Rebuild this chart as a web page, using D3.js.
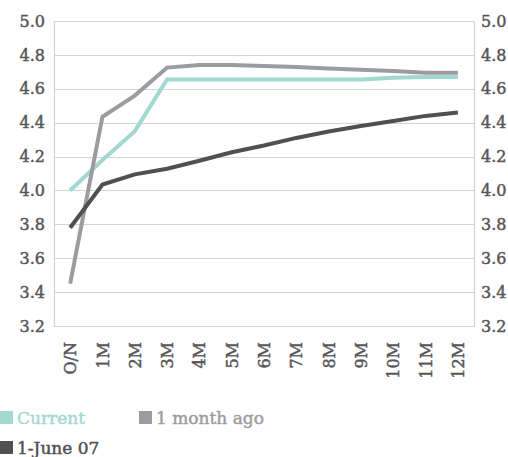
<!DOCTYPE html>
<html>
<head>
<meta charset="utf-8">
<script src="https://cdn.jsdelivr.net/npm/d3@7"></script>
<style>
  html, body { margin: 0; padding: 0; background: #fff; }
  svg { display: block; }
  text { font-family: "DejaVu Serif", "Liberation Serif", serif; }
</style>
</head>
<body>
<svg id="chart" width="508" height="457"></svg>
<script>
// Money-market yield curve: tenors from overnight to 12 months
const tenors = ["O/N", "1M", "2M", "3M", "4M", "5M", "6M", "7M", "8M", "9M", "10M", "11M", "12M"];

const currentRates = [4.00, 4.18, 4.35, 4.655, 4.655, 4.655, 4.655, 4.655, 4.655, 4.655, 4.665, 4.67, 4.67];
const monthAgoRates = [3.45, 4.435, 4.56, 4.725, 4.74, 4.74, 4.735, 4.728, 4.72, 4.712, 4.705, 4.695, 4.695];
const june07Rates = [3.78, 4.035, 4.095, 4.128, 4.175, 4.225, 4.265, 4.31, 4.348, 4.38, 4.41, 4.44, 4.46];

const yTicks = [3.2, 3.4, 3.6, 3.8, 4.0, 4.2, 4.4, 4.6, 4.8, 5.0];

const seriesNames = ["Current", "1 month ago", "1-June 07"];
const seriesColors = ["#a1d9d1", "#9c9ca0", "#505052"];

const series = [
  { name: seriesNames[0], color: seriesColors[0], values: currentRates },
  { name: seriesNames[1], color: seriesColors[1], values: monthAgoRates },
  { name: seriesNames[2], color: seriesColors[2], values: june07Rates }
];

const svg = d3.select("#chart");
const plot = { left: 54, right: 474, top: 21, bottom: 326 };

const x = d3.scalePoint().domain(tenors).range([plot.left, plot.right]).padding(0.5);
const y = d3.scaleLinear().domain([3.2, 5.0]).range([plot.bottom, plot.top]);

// horizontal gridlines
svg.append("g")
  .selectAll("line")
  .data(yTicks)
  .join("line")
  .attr("x1", plot.left).attr("x2", plot.right)
  .attr("y1", d => Math.round(y(d)) + 0.5).attr("y2", d => Math.round(y(d)) + 0.5)
  .attr("stroke", "#d4d4d4").attr("stroke-width", 1.2);

// left and right frame lines
[plot.left, plot.right].forEach(px => {
  svg.append("line")
    .attr("x1", px + 0.5).attr("x2", px + 0.5)
    .attr("y1", plot.top).attr("y2", Math.round(plot.bottom) + 1)
    .attr("stroke", "#d4d4d4").attr("stroke-width", 1.2);
});

const fmt = d3.format(".1f");
const labelColor = "#555557";

// slightly heavier text weight
function styleLabels(sel, color) {
  sel.attr("fill", color)
    .attr("stroke", color)
    .attr("stroke-width", 0.45)
    .attr("font-size", 16)
    .attr("font-family", "DejaVu Serif");
}

// left value axis
const leftAxis = svg.append("g")
  .attr("transform", `translate(${plot.left},0)`)
  .call(d3.axisLeft(y).tickValues(yTicks).tickFormat(fmt).tickSize(0).tickPadding(9));
leftAxis.select(".domain").remove();
styleLabels(leftAxis.selectAll("text"), labelColor);

// right value axis
const rightAxis = svg.append("g")
  .attr("transform", `translate(${plot.right},0)`)
  .call(d3.axisRight(y).tickValues(yTicks).tickFormat(fmt).tickSize(0).tickPadding(7));
rightAxis.select(".domain").remove();
styleLabels(rightAxis.selectAll("text"), labelColor);

// tenor labels, rotated
const bottomAxis = svg.append("g")
  .attr("transform", `translate(0,${plot.bottom})`)
  .call(d3.axisBottom(x).tickSize(0).tickPadding(0));
bottomAxis.select(".domain").remove();
styleLabels(bottomAxis.selectAll("text"), labelColor);
bottomAxis.selectAll("text")
  .attr("text-anchor", "end")
  .attr("transform", "translate(0,16) rotate(-90)")
  .attr("x", 0).attr("y", 0).attr("dy", "0.35em");

// rate curves
const line = d3.line()
  .x((d, i) => x(tenors[i]))
  .y(d => y(d));

svg.append("g")
  .selectAll("path")
  .data(series)
  .join("path")
  .attr("d", d => line(d.values))
  .attr("fill", "none")
  .attr("stroke", d => d.color)
  .attr("stroke-width", 4)
  .attr("stroke-linejoin", "miter");

// legend
const legendPos = [[0, 411], [139, 411], [0, 441]];
const legend = svg.append("g")
  .selectAll("g")
  .data(series)
  .join("g")
  .attr("transform", (d, i) => `translate(${legendPos[i][0]},${legendPos[i][1]})`);

legend.append("rect")
  .attr("x", 0).attr("y", 0).attr("width", 13).attr("height", 13)
  .attr("fill", d => d.color);

legend.append("text")
  .attr("x", 17).attr("y", 13)
  .attr("font-size", 17)
  .attr("fill", d => d.color)
  .attr("stroke", d => d.color)
  .attr("stroke-width", 0.45)
  .text(d => d.name);
</script>
</body>
</html>
